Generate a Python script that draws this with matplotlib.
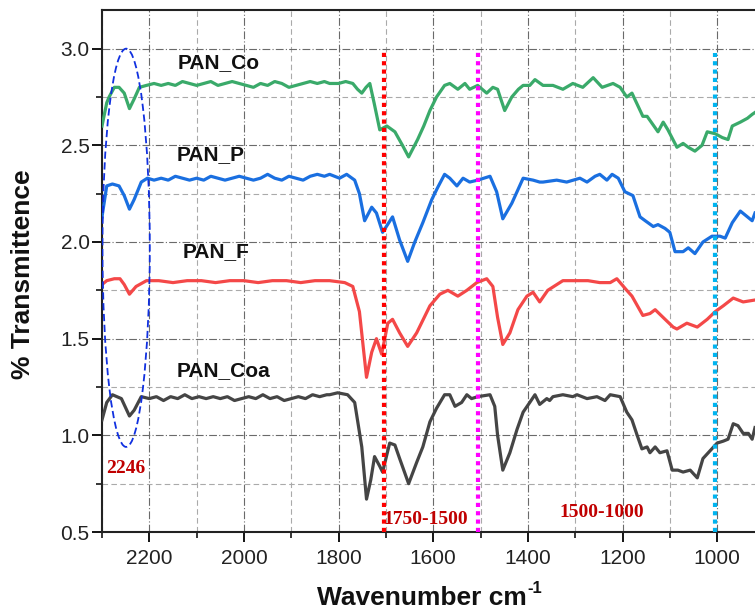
import matplotlib
matplotlib.use("Agg")
import matplotlib.pyplot as plt
from matplotlib.patches import Ellipse
from matplotlib.ticker import MultipleLocator, FormatStrFormatter

# ---------------- data ----------------
wn_co = [2300, 2290, 2285, 2274, 2264, 2253, 2242, 2232, 2221, 2206, 2190, 2175, 2160, 2145, 2130, 2115,
         2100, 2085, 2070, 2055, 2040, 2025, 2010, 1995, 1980, 1965, 1950, 1935, 1920, 1905, 1890, 1875,
         1860, 1845, 1830, 1819, 1800, 1785, 1770, 1760, 1751, 1742, 1734, 1725, 1713, 1698, 1681, 1665,
         1652, 1633, 1620, 1607, 1593, 1576, 1565, 1548, 1533, 1523, 1506, 1487, 1474, 1464, 1449, 1434,
         1420, 1410, 1396, 1385, 1368, 1347, 1326, 1305, 1284, 1262, 1243, 1220, 1205, 1191, 1180, 1157,
         1148, 1125, 1114, 1104, 1085, 1072, 1061, 1047, 1032, 1021, 1004, 989, 977, 968, 951, 936, 926, 920]
t_co = [2.60, 2.72, 2.75, 2.80, 2.80, 2.77, 2.69, 2.74, 2.80, 2.81, 2.82, 2.81, 2.82, 2.81, 2.83, 2.82,
        2.81, 2.82, 2.83, 2.81, 2.82, 2.83, 2.82, 2.81, 2.80, 2.82, 2.81, 2.83, 2.82, 2.80, 2.81, 2.82,
        2.83, 2.82, 2.83, 2.82, 2.82, 2.83, 2.82, 2.79, 2.77, 2.80, 2.82, 2.72, 2.58, 2.60, 2.57, 2.50,
        2.44, 2.53, 2.60, 2.68, 2.75, 2.81, 2.82, 2.79, 2.82, 2.79, 2.81, 2.77, 2.80, 2.79, 2.68, 2.75,
        2.79, 2.81, 2.81, 2.84, 2.81, 2.81, 2.79, 2.82, 2.80, 2.85, 2.80, 2.82, 2.80, 2.75, 2.77, 2.65,
        2.65, 2.57, 2.62, 2.58, 2.49, 2.51, 2.49, 2.47, 2.50, 2.57, 2.56, 2.54, 2.53, 2.60, 2.62, 2.64, 2.66, 2.67]

wn_p = [2300, 2290, 2278, 2264, 2253, 2242, 2232, 2217, 2204, 2190, 2175, 2160, 2145, 2130, 2115, 2100,
        2085, 2070, 2055, 2040, 2025, 2010, 1995, 1980, 1965, 1950, 1935, 1920, 1905, 1890, 1875, 1860,
        1845, 1830, 1819, 1798, 1783, 1766, 1756, 1745, 1730, 1720, 1707, 1686, 1671, 1654, 1639, 1622,
        1603, 1591, 1576, 1565, 1550, 1537, 1523, 1506, 1480, 1466, 1453, 1434, 1410, 1389, 1375, 1368,
        1339, 1318, 1290, 1275, 1258, 1248, 1233, 1222, 1209, 1195, 1178, 1163, 1152, 1135, 1125, 1110,
        1100, 1089, 1072, 1061, 1047, 1030, 1011, 994, 983, 968, 951, 936, 926, 920]
t_p = [2.13, 2.29, 2.30, 2.29, 2.24, 2.17, 2.22, 2.31, 2.33, 2.32, 2.33, 2.32, 2.34, 2.33, 2.32, 2.33,
       2.32, 2.34, 2.33, 2.32, 2.33, 2.34, 2.33, 2.32, 2.33, 2.35, 2.33, 2.32, 2.34, 2.33, 2.32, 2.34,
       2.35, 2.34, 2.35, 2.33, 2.35, 2.32, 2.25, 2.11, 2.18, 2.15, 2.05, 2.13, 2.01, 1.90, 2.00, 2.10,
       2.22, 2.28, 2.35, 2.33, 2.29, 2.33, 2.31, 2.32, 2.34, 2.26, 2.12, 2.20, 2.33, 2.32, 2.31, 2.31,
       2.32, 2.31, 2.33, 2.31, 2.34, 2.35, 2.32, 2.35, 2.33, 2.26, 2.24, 2.13, 2.11, 2.08, 2.09, 2.07,
       2.05, 1.95, 1.95, 1.97, 1.94, 2.00, 2.03, 2.03, 2.02, 2.10, 2.16, 2.13, 2.11, 2.15]

wn_f = [2300, 2290, 2274, 2262, 2253, 2242, 2228, 2206, 2180, 2150, 2120, 2090, 2060, 2030, 2000, 1970,
        1940, 1910, 1880, 1850, 1819, 1787, 1770, 1756, 1741, 1730, 1720, 1709, 1696, 1686, 1671, 1654,
        1635, 1607, 1586, 1569, 1548, 1529, 1508, 1487, 1474, 1464, 1453, 1438, 1421, 1402, 1389, 1375,
        1358, 1326, 1305, 1273, 1248, 1226, 1212, 1191, 1180, 1157, 1142, 1131, 1110, 1093, 1085, 1064,
        1042, 1021, 1004, 987, 966, 945, 920]
t_f = [1.78, 1.80, 1.81, 1.81, 1.78, 1.73, 1.77, 1.80, 1.80, 1.79, 1.80, 1.80, 1.79, 1.80, 1.80, 1.79,
       1.80, 1.80, 1.79, 1.80, 1.80, 1.79, 1.77, 1.64, 1.30, 1.43, 1.50, 1.42, 1.58, 1.60, 1.53, 1.46,
       1.53, 1.67, 1.73, 1.75, 1.72, 1.75, 1.79, 1.81, 1.77, 1.61, 1.47, 1.53, 1.65, 1.72, 1.74, 1.69,
       1.75, 1.80, 1.80, 1.80, 1.79, 1.79, 1.81, 1.75, 1.72, 1.62, 1.63, 1.65, 1.60, 1.56, 1.55, 1.58,
       1.56, 1.60, 1.64, 1.67, 1.71, 1.69, 1.70]

wn_coa = [2300, 2290, 2278, 2259, 2242, 2232, 2217, 2200, 2185, 2170, 2155, 2140, 2125, 2110, 2095, 2080,
          2065, 2050, 2035, 2020, 2005, 1990, 1975, 1960, 1945, 1930, 1915, 1900, 1885, 1870, 1855, 1840,
          1825, 1819, 1802, 1781, 1766, 1751, 1741, 1732, 1724, 1713, 1707, 1692, 1681, 1671, 1652, 1635,
          1622, 1607, 1593, 1576, 1565, 1554, 1540, 1529, 1519, 1506, 1480, 1470, 1464, 1453, 1438, 1423,
          1410, 1396, 1385, 1375, 1360, 1354, 1347, 1326, 1305, 1296, 1275, 1254, 1237, 1226, 1205, 1191,
          1180, 1169, 1159, 1148, 1142, 1131, 1121, 1106, 1095, 1083, 1072, 1057, 1042, 1030, 1015, 1000,
          987, 977, 966, 956, 945, 934, 926, 920]
t_coa = [1.08, 1.17, 1.21, 1.19, 1.10, 1.13, 1.20, 1.19, 1.20, 1.18, 1.20, 1.19, 1.21, 1.19, 1.20, 1.19,
         1.20, 1.19, 1.20, 1.18, 1.19, 1.20, 1.19, 1.21, 1.19, 1.20, 1.18, 1.19, 1.20, 1.19, 1.21, 1.20,
         1.21, 1.21, 1.22, 1.21, 1.17, 0.94, 0.67, 0.77, 0.89, 0.84, 0.81, 0.96, 0.95, 0.88, 0.75, 0.86,
         0.94, 1.07, 1.14, 1.21, 1.21, 1.15, 1.17, 1.21, 1.19, 1.20, 1.21, 1.15, 1.00, 0.82, 0.91, 1.03,
         1.12, 1.17, 1.21, 1.16, 1.19, 1.18, 1.20, 1.21, 1.20, 1.21, 1.19, 1.20, 1.18, 1.21, 1.20, 1.12,
         1.08, 1.00, 0.93, 0.94, 0.91, 0.94, 0.91, 0.92, 0.82, 0.82, 0.81, 0.82, 0.78, 0.88, 0.92, 0.96,
         0.97, 0.98, 1.06, 1.05, 1.01, 1.01, 0.98, 1.04]

series_names = ["PAN_Co", "PAN_P", "PAN_F", "PAN_Coa"]
series_colors = ["#3aaa6a", "#1a6fe0", "#f44848", "#454545"]
label_pos = [(2141, 2.93), (2143, 2.45), (2130, 1.95), (2143, 1.335)]

vline_x = [1705, 1506, 1005]
vline_colors = ["#ff0000", "#ff00ff", "#00b4f0"]
vline_tops = [3.0, 3.0, 2.98]

region_texts = ["2246", "1750-1500", "1500-1000"]
region_pos = [(2250, 0.83), (1616, 0.567), (1243, 0.603)]

# ---------------- plot ----------------
fig = plt.figure(figsize=(7.55, 6.11), dpi=100)
ax = fig.add_axes([102 / 755, 1 - 532 / 611, 1 - 102 / 755, (532 - 10) / 611])

ax.set_xlim(2300, 920)
ax.set_ylim(0.5, 3.2)

ax.xaxis.set_major_locator(MultipleLocator(200))
ax.xaxis.set_minor_locator(MultipleLocator(100))
ax.yaxis.set_major_locator(MultipleLocator(0.5))
ax.yaxis.set_minor_locator(MultipleLocator(0.25))

ax.grid(which="major", color="#6a6a6a", linestyle=(0, (7, 2, 1, 2)), linewidth=0.8)
ax.grid(which="minor", color="#aaaaaa", linestyle=(0, (5, 3)), linewidth=0.8)
ax.set_axisbelow(True)

for s in ["left", "bottom", "top"]:
    ax.spines[s].set_linewidth(1.5)
    ax.spines[s].set_color("#222222")
ax.spines["right"].set_visible(False)

ax.tick_params(which="major", direction="out", length=7, width=1.3, labelsize=15,
               labelcolor="#222222")
ax.tick_params(axis="x", which="major", pad=5)
ax.tick_params(axis="y", which="major", pad=2)
ax.tick_params(which="minor", direction="out", length=4, width=1.1)
for lab in ax.get_xticklabels() + ax.get_yticklabels():
    lab.set_fontfamily("Liberation Sans")
ax.yaxis.set_major_formatter(FormatStrFormatter("%.1f"))

data = [(wn_co, t_co), (wn_p, t_p), (wn_f, t_f), (wn_coa, t_coa)]
for (wx, ty), c in zip(data, series_colors):
    ax.plot(wx, ty, color=c, linewidth=2.3, solid_joinstyle="round", zorder=3)

for name, (lx, ly) in zip(series_names, label_pos):
    ax.text(lx, ly, name, fontsize=15, fontweight="bold", family="Liberation Sans",
            ha="left", va="center", color="#111111", zorder=5)

for vx, vc, vt in zip(vline_x, vline_colors, vline_tops):
    ax.plot([vx, vx], [0.5, vt], color=vc, linewidth=3, linestyle=(0, (1, 1)), zorder=4)

ell = Ellipse((2249, 1.97), width=100, height=2.06, fill=False, edgecolor="#1030e0",
              linestyle=(0, (4, 2)), linewidth=1.3, zorder=4)
ax.add_patch(ell)

for t, (tx, ty) in zip(region_texts, region_pos):
    ax.text(tx, ty, t, fontsize=14, fontweight="bold", family="Liberation Serif",
            color="#c00000", ha="center", va="center", zorder=5)

fig.text(23 / 755, 1 - 274 / 611, "% Transmittence", rotation=90, fontsize=19,
         fontweight="bold", family="Liberation Sans", ha="center", va="center", color="#111111")

# x label: main text plus a small hyphen superscript
xl = fig.text(317 / 755, 6 / 611, "Wavenumber cm", fontsize=19,
              fontweight="bold", family="Liberation Sans", ha="left", va="baseline", color="#111111")
fig.canvas.draw()
bb = xl.get_window_extent()
fig.text((bb.x1 + 1) / 755, 18 / 611, "-1", fontsize=12,
         fontweight="bold", family="Liberation Sans", ha="left", va="baseline", color="#111111")

fig.savefig("out.png", dpi=100)
